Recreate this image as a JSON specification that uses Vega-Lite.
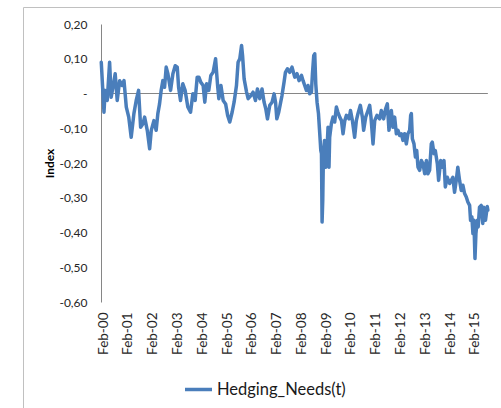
{
  "$schema": "https://vega.github.io/schema/vega-lite/v6.json",
  "width": 478,
  "height": 401,
  "autosize": {"type": "none"},
  "padding": {"left": 23, "top": 7, "right": 0, "bottom": 0},
  "background": "white",
  "config": {
    "locale": {
      "number": {"decimal": ",", "thousands": ".", "grouping": [3], "currency": ["", " €"], "minus": "-"}
    },
    "view": {"stroke": "#c0c0c0", "strokeWidth": 1},
    "font": "Lato",
    "axis": {"labelFont": "Lato", "labelColor": "#262626", "grid": false, "ticks": false, "labelOverlap": false, "labelFlush": false}
  },
  "data": {
    "values": [
      {"date": "2000-01-05", "value": 0.090},
      {"date": "2000-01-25", "value": 0.018},
      {"date": "2000-02-14", "value": -0.054},
      {"date": "2000-03-03", "value": 0.009},
      {"date": "2000-04-02", "value": -0.020},
      {"date": "2000-05-07", "value": 0.090},
      {"date": "2000-05-30", "value": -0.011},
      {"date": "2000-06-25", "value": 0.018},
      {"date": "2000-07-28", "value": 0.057},
      {"date": "2000-08-27", "value": -0.020},
      {"date": "2000-10-02", "value": 0.037},
      {"date": "2000-11-06", "value": 0.023},
      {"date": "2000-12-05", "value": 0.037},
      {"date": "2001-01-08", "value": -0.039},
      {"date": "2001-02-13", "value": -0.068},
      {"date": "2001-03-21", "value": -0.126},
      {"date": "2001-04-30", "value": -0.058},
      {"date": "2001-06-03", "value": -0.020},
      {"date": "2001-07-08", "value": 0.009},
      {"date": "2001-08-07", "value": -0.097},
      {"date": "2001-09-10", "value": -0.087},
      {"date": "2001-10-05", "value": -0.068},
      {"date": "2001-11-13", "value": -0.106},
      {"date": "2001-12-18", "value": -0.159},
      {"date": "2002-01-11", "value": -0.106},
      {"date": "2002-02-19", "value": -0.078},
      {"date": "2002-03-24", "value": -0.106},
      {"date": "2002-04-18", "value": -0.058},
      {"date": "2002-05-13", "value": -0.030},
      {"date": "2002-06-06", "value": 0.009},
      {"date": "2002-07-01", "value": 0.037},
      {"date": "2002-07-26", "value": 0.018},
      {"date": "2002-08-19", "value": 0.076},
      {"date": "2002-09-13", "value": 0.057},
      {"date": "2002-10-23", "value": 0.009},
      {"date": "2002-11-26", "value": 0.057},
      {"date": "2002-12-30", "value": 0.080},
      {"date": "2003-01-29", "value": 0.076},
      {"date": "2003-02-18", "value": 0.018},
      {"date": "2003-03-18", "value": -0.020},
      {"date": "2003-04-21", "value": 0.028},
      {"date": "2003-05-25", "value": 0.009},
      {"date": "2003-07-04", "value": -0.039},
      {"date": "2003-08-13", "value": -0.054},
      {"date": "2003-09-16", "value": -0.001},
      {"date": "2003-10-20", "value": -0.020},
      {"date": "2003-11-19", "value": 0.047},
      {"date": "2003-12-14", "value": 0.047},
      {"date": "2004-01-12", "value": 0.032},
      {"date": "2004-02-15", "value": 0.023},
      {"date": "2004-03-10", "value": -0.025},
      {"date": "2004-04-05", "value": 0.028},
      {"date": "2004-05-08", "value": 0.009},
      {"date": "2004-06-07", "value": 0.052},
      {"date": "2004-07-11", "value": 0.061},
      {"date": "2004-08-16", "value": 0.100},
      {"date": "2004-09-15", "value": 0.023},
      {"date": "2004-10-03", "value": -0.015},
      {"date": "2004-11-03", "value": 0.023},
      {"date": "2004-12-06", "value": -0.020},
      {"date": "2005-01-11", "value": -0.030},
      {"date": "2005-02-10", "value": -0.063},
      {"date": "2005-03-13", "value": -0.082},
      {"date": "2005-04-17", "value": -0.054},
      {"date": "2005-05-16", "value": -0.025},
      {"date": "2005-06-20", "value": 0.023},
      {"date": "2005-07-14", "value": 0.090},
      {"date": "2005-08-08", "value": 0.100},
      {"date": "2005-09-03", "value": 0.138},
      {"date": "2005-09-18", "value": 0.109},
      {"date": "2005-10-11", "value": 0.042},
      {"date": "2005-11-16", "value": 0.004},
      {"date": "2005-12-09", "value": -0.015},
      {"date": "2006-01-18", "value": -0.006},
      {"date": "2006-02-20", "value": 0.004},
      {"date": "2006-03-27", "value": -0.020},
      {"date": "2006-04-25", "value": 0.013},
      {"date": "2006-05-29", "value": -0.015},
      {"date": "2006-07-02", "value": 0.013},
      {"date": "2006-08-01", "value": -0.025},
      {"date": "2006-08-26", "value": -0.044},
      {"date": "2006-09-20", "value": -0.073},
      {"date": "2006-10-24", "value": -0.034},
      {"date": "2006-11-27", "value": -0.025},
      {"date": "2006-12-27", "value": -0.001},
      {"date": "2007-01-17", "value": -0.025},
      {"date": "2007-02-05", "value": -0.073},
      {"date": "2007-03-05", "value": -0.054},
      {"date": "2007-04-03", "value": -0.025},
      {"date": "2007-04-22", "value": -0.006},
      {"date": "2007-05-22", "value": 0.032},
      {"date": "2007-06-12", "value": 0.061},
      {"date": "2007-07-11", "value": 0.071},
      {"date": "2007-08-14", "value": 0.061},
      {"date": "2007-09-17", "value": 0.076},
      {"date": "2007-10-27", "value": 0.047},
      {"date": "2007-11-30", "value": 0.057},
      {"date": "2007-12-29", "value": 0.037},
      {"date": "2008-02-04", "value": 0.052},
      {"date": "2008-02-27", "value": 0.037},
      {"date": "2008-03-22", "value": 0.023},
      {"date": "2008-04-16", "value": 0.009},
      {"date": "2008-05-10", "value": 0.023},
      {"date": "2008-06-04", "value": -0.001},
      {"date": "2008-06-29", "value": 0.004},
      {"date": "2008-07-14", "value": 0.057},
      {"date": "2008-08-02", "value": 0.109},
      {"date": "2008-08-17", "value": 0.114},
      {"date": "2008-09-01", "value": 0.028},
      {"date": "2008-09-20", "value": -0.025},
      {"date": "2008-10-11", "value": -0.058},
      {"date": "2008-10-30", "value": -0.116},
      {"date": "2008-11-14", "value": -0.164},
      {"date": "2008-11-24", "value": -0.173},
      {"date": "2008-12-03", "value": -0.370},
      {"date": "2008-12-13", "value": -0.307},
      {"date": "2008-12-23", "value": -0.173},
      {"date": "2009-01-08", "value": -0.135},
      {"date": "2009-01-27", "value": -0.212},
      {"date": "2009-02-15", "value": -0.154},
      {"date": "2009-03-01", "value": -0.097},
      {"date": "2009-03-15", "value": -0.212},
      {"date": "2009-03-25", "value": -0.126},
      {"date": "2009-04-19", "value": -0.087},
      {"date": "2009-05-13", "value": -0.068},
      {"date": "2009-06-07", "value": -0.082},
      {"date": "2009-07-02", "value": -0.039},
      {"date": "2009-07-25", "value": -0.054},
      {"date": "2009-08-20", "value": -0.068},
      {"date": "2009-09-15", "value": -0.078},
      {"date": "2009-10-08", "value": -0.116},
      {"date": "2009-11-03", "value": -0.078},
      {"date": "2009-11-27", "value": -0.063},
      {"date": "2010-01-05", "value": -0.073},
      {"date": "2010-01-26", "value": -0.049},
      {"date": "2010-02-23", "value": -0.078},
      {"date": "2010-03-28", "value": -0.126},
      {"date": "2010-04-22", "value": -0.078},
      {"date": "2010-05-16", "value": -0.058},
      {"date": "2010-06-20", "value": -0.034},
      {"date": "2010-07-20", "value": -0.068},
      {"date": "2010-08-08", "value": -0.106},
      {"date": "2010-09-07", "value": -0.068},
      {"date": "2010-10-11", "value": -0.049},
      {"date": "2010-11-05", "value": -0.034},
      {"date": "2010-11-24", "value": -0.068},
      {"date": "2010-12-24", "value": -0.145},
      {"date": "2011-01-18", "value": -0.078},
      {"date": "2011-02-20", "value": -0.063},
      {"date": "2011-04-01", "value": -0.073},
      {"date": "2011-04-25", "value": -0.049},
      {"date": "2011-05-29", "value": -0.073},
      {"date": "2011-06-28", "value": -0.044},
      {"date": "2011-07-23", "value": -0.030},
      {"date": "2011-08-16", "value": -0.106},
      {"date": "2011-09-20", "value": -0.049},
      {"date": "2011-10-14", "value": -0.097},
      {"date": "2011-11-08", "value": -0.068},
      {"date": "2011-12-03", "value": -0.116},
      {"date": "2011-12-27", "value": -0.106},
      {"date": "2012-01-21", "value": -0.121},
      {"date": "2012-02-15", "value": -0.116},
      {"date": "2012-03-09", "value": -0.135},
      {"date": "2012-04-03", "value": -0.116},
      {"date": "2012-04-28", "value": -0.145},
      {"date": "2012-05-22", "value": -0.116},
      {"date": "2012-06-16", "value": -0.106},
      {"date": "2012-07-01", "value": -0.063},
      {"date": "2012-07-11", "value": -0.058},
      {"date": "2012-07-26", "value": -0.130},
      {"date": "2012-08-19", "value": -0.145},
      {"date": "2012-09-09", "value": -0.183},
      {"date": "2012-09-28", "value": -0.164},
      {"date": "2012-10-17", "value": -0.212},
      {"date": "2012-11-11", "value": -0.221},
      {"date": "2012-12-06", "value": -0.193},
      {"date": "2012-12-30", "value": -0.202},
      {"date": "2013-01-24", "value": -0.231},
      {"date": "2013-02-18", "value": -0.193},
      {"date": "2013-03-12", "value": -0.231},
      {"date": "2013-04-06", "value": -0.221},
      {"date": "2013-05-01", "value": -0.145},
      {"date": "2013-05-16", "value": -0.140},
      {"date": "2013-06-09", "value": -0.173},
      {"date": "2013-06-29", "value": -0.164},
      {"date": "2013-07-29", "value": -0.202},
      {"date": "2013-08-17", "value": -0.250},
      {"date": "2013-09-16", "value": -0.193},
      {"date": "2013-10-05", "value": -0.212},
      {"date": "2013-11-04", "value": -0.193},
      {"date": "2013-11-24", "value": -0.269},
      {"date": "2013-12-23", "value": -0.241},
      {"date": "2014-01-27", "value": -0.259},
      {"date": "2014-02-20", "value": -0.250},
      {"date": "2014-03-15", "value": -0.241},
      {"date": "2014-04-09", "value": -0.284},
      {"date": "2014-05-04", "value": -0.250},
      {"date": "2014-05-27", "value": -0.212},
      {"date": "2014-06-22", "value": -0.250},
      {"date": "2014-07-17", "value": -0.279},
      {"date": "2014-08-10", "value": -0.264},
      {"date": "2014-09-04", "value": -0.288},
      {"date": "2014-09-29", "value": -0.298},
      {"date": "2014-10-22", "value": -0.312},
      {"date": "2014-11-17", "value": -0.322},
      {"date": "2014-12-01", "value": -0.365},
      {"date": "2014-12-20", "value": -0.355},
      {"date": "2015-01-05", "value": -0.403},
      {"date": "2015-01-19", "value": -0.365},
      {"date": "2015-02-04", "value": -0.475},
      {"date": "2015-02-18", "value": -0.403},
      {"date": "2015-03-09", "value": -0.365},
      {"date": "2015-03-23", "value": -0.384},
      {"date": "2015-04-12", "value": -0.327},
      {"date": "2015-05-07", "value": -0.322},
      {"date": "2015-05-30", "value": -0.374},
      {"date": "2015-06-14", "value": -0.327},
      {"date": "2015-07-09", "value": -0.365},
      {"date": "2015-08-04", "value": -0.325},
      {"date": "2015-08-13", "value": -0.336}
    ]
  },
  "layer": [
    {
      "data": {"values": [{}]},
      "mark": {"type": "rule", "color": "#868686", "strokeWidth": 1},
      "encoding": {
        "y": {"datum": 0, "type": "quantitative"},
        "x": {"datum": {"year": 2000, "month": 1, "date": 1, "utc": true}, "type": "temporal"},
        "x2": {"datum": {"year": 2015, "month": 8, "date": 13, "utc": true}}
      }
    },
    {
      "mark": {"type": "line", "strokeWidth": 3.5, "strokeJoin": "round", "strokeCap": "round"},
      "encoding": {
        "x": {
          "field": "date",
          "type": "temporal",
          "title": null,
          "scale": {
            "type": "utc",
            "domain": [
              {"year": 2000, "month": 1, "date": 1, "utc": true},
              {"year": 2015, "month": 8, "date": 15, "utc": true}
            ],
            "range": [78, 465],
            "nice": false
          },
          "axis": {
            "values": [
              {"year": 2000, "month": 2, "date": 1, "utc": true},
              {"year": 2001, "month": 2, "date": 1, "utc": true},
              {"year": 2002, "month": 2, "date": 1, "utc": true},
              {"year": 2003, "month": 2, "date": 1, "utc": true},
              {"year": 2004, "month": 2, "date": 1, "utc": true},
              {"year": 2005, "month": 2, "date": 1, "utc": true},
              {"year": 2006, "month": 2, "date": 1, "utc": true},
              {"year": 2007, "month": 2, "date": 1, "utc": true},
              {"year": 2008, "month": 2, "date": 1, "utc": true},
              {"year": 2009, "month": 2, "date": 1, "utc": true},
              {"year": 2010, "month": 2, "date": 1, "utc": true},
              {"year": 2011, "month": 2, "date": 1, "utc": true},
              {"year": 2012, "month": 2, "date": 1, "utc": true},
              {"year": 2013, "month": 2, "date": 1, "utc": true},
              {"year": 2014, "month": 2, "date": 1, "utc": true},
              {"year": 2015, "month": 2, "date": 1, "utc": true}
            ],
            "tickCount": 20,
            "format": "%b-%y",
            "labelAngle": -90,
            "domain": false,
            "ticks": false,
            "labelPadding": 10,
            "offset": -106,
            "labelFontSize": 13.5,
            "labelFlush": false,
            "labelOverlap": false
          }
        },
        "y": {
          "field": "value",
          "type": "quantitative",
          "title": "Index",
          "scale": {"domain": [-0.6, 0.2], "range": [295, 17], "nice": false, "zero": false},
          "axis": {
            "values": [-0.6, -0.5, -0.4, -0.3, -0.2, -0.1, 0, 0.1, 0.2],
            "tickCount": 12,
            "format": ".2f",
            "labelExpr": "datum.value === 0 ? '-' : datum.label",
            "domainColor": "#868686",
            "ticks": false,
            "labelPadding": 14,
            "offset": -78,
            "labelFontSize": 12,
            "labelFlush": false,
            "labelOverlap": false,
            "titleFont": "Lato",
            "titleFontWeight": "bold",
            "titleFontSize": 12,
            "titleColor": "#000000",
            "titleX": -51.5,
            "titleY": 156,
            "titleAngle": 270,
            "titleAlign": "center",
            "titleBaseline": "middle"
          }
        },
        "color": {
          "datum": "Hedging_Needs(t)",
          "type": "nominal",
          "scale": {"range": ["#4a7ebb"]},
          "legend": {
            "orient": "none",
            "legendX": 160,
            "legendY": 367,
            "title": null,
            "padding": 0,
            "symbolType": "stroke",
            "symbolSize": 729,
            "symbolStrokeWidth": 3.5,
            "labelFont": "Lato",
            "labelFontSize": 16.5,
            "labelColor": "#1a1a1a",
            "labelOffset": 3
          }
        }
      }
    }
  ]
}
